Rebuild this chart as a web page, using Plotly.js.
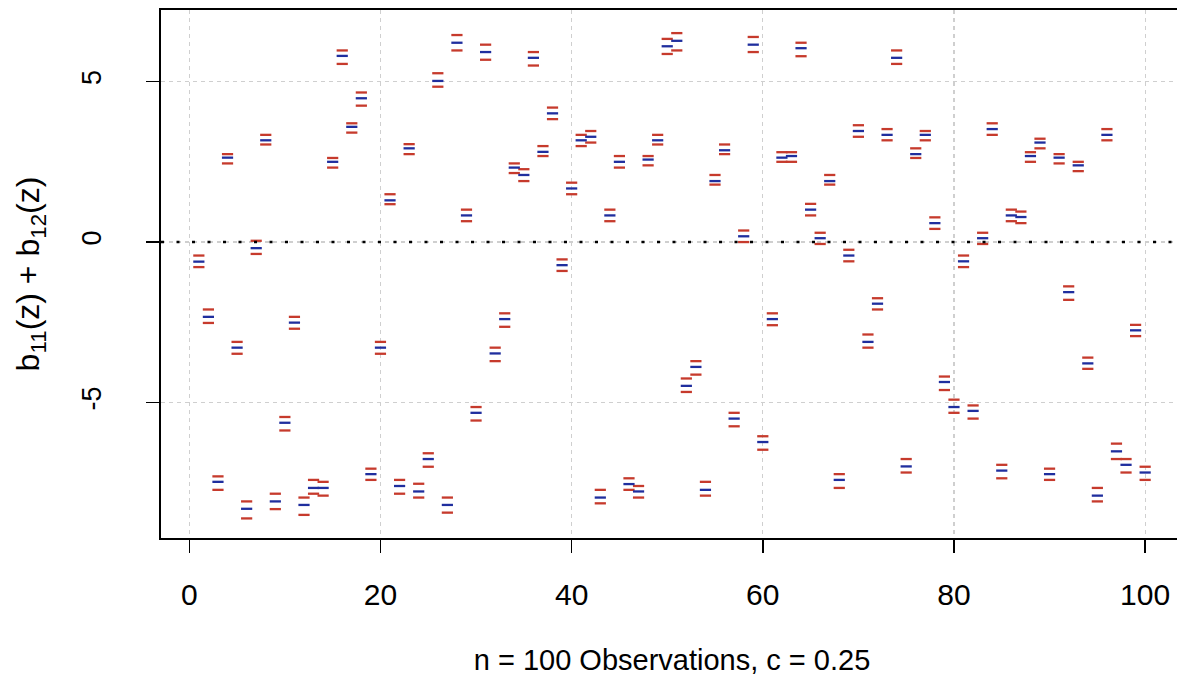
<!DOCTYPE html>
<html>
<head>
<meta charset="utf-8">
<script src="https://cdn.plot.ly/plotly-3.0.1.min.js"></script>
<style>
html,body{margin:0;padding:0;background:#fff;overflow:hidden;}
#chart{width:1183px;height:680px;}
</style>
</head>
<body>
<div id="chart"></div>
<script>
// Observation index
var obs = [];
for (var k = 1; k <= 100; k++) obs.push(k);

// Middle estimate (blue)
var midVals = [
 -0.61,-2.33,-7.47, 2.63,-3.29,-8.31,-0.19, 3.17,-8.08,-5.63,
 -2.51,-8.19,-7.66,-7.66, 2.50, 5.80, 3.59, 4.48,-7.23,-3.29,
  1.30,-7.60, 2.92,-7.77,-6.76, 5.02,-8.19, 6.21, 0.83,-5.32,
  5.92,-3.47,-2.40, 2.32, 2.09, 5.74, 2.81, 4.01,-0.72, 1.67,
  3.17, 3.28,-7.96, 0.83, 2.50,-7.54,-7.77, 2.57, 3.17, 6.10,
  6.27,-4.48,-3.89,-7.72, 1.90, 2.86,-5.50, 0.18, 6.15,-6.23,
 -2.40, 2.63, 2.68, 6.04, 1.01, 0.12, 1.90,-7.41,-0.42, 3.46,
 -3.11,-1.92, 3.34, 5.74,-6.99, 2.74, 3.34, 0.59,-4.36,-5.14,
 -0.60,-5.26, 0.12, 3.52,-7.12, 0.83, 0.78, 2.68, 3.10,-7.23,
  2.63,-1.56, 2.39,-3.78,-7.90, 3.34,-6.52,-6.94,-2.75,-7.18
];
// Upper bound (red)
var upperVals = [
 -0.42,-2.10,-7.30, 2.74,-3.11,-8.08, 0.04, 3.34,-7.84,-5.45,
 -2.33,-7.96,-7.41,-7.47, 2.62, 5.97, 3.70, 4.66,-7.06,-3.11,
  1.49,-7.41, 3.05,-7.53,-6.58, 5.26,-7.96, 6.45, 1.01,-5.14,
  6.15,-3.29,-2.22, 2.45, 2.27, 5.92, 2.99, 4.19,-0.54, 1.85,
  3.34, 3.46,-7.72, 1.01, 2.68,-7.36,-7.60, 2.68, 3.34, 6.33,
  6.51,-4.25,-3.71,-7.47, 2.09, 3.04,-5.32, 0.36, 6.39,-6.05,
 -2.22, 2.80, 2.80, 6.21, 1.19, 0.29, 2.09,-7.23,-0.24, 3.64,
 -2.88,-1.75, 3.52, 5.97,-6.76, 2.92, 3.46, 0.77,-4.19,-4.91,
 -0.42,-5.09, 0.29, 3.70,-6.94, 1.01, 0.95, 2.80, 3.22,-7.06,
  2.74,-1.38, 2.50,-3.60,-7.66, 3.52,-6.28,-6.76,-2.58,-7.00
];
// Lower bound (red)
var lowerVals = [
 -0.78,-2.52,-7.72, 2.45,-3.48,-8.61,-0.37, 3.04,-8.32,-5.87,
 -2.70,-8.50,-7.84,-7.90, 2.32, 5.55, 3.41, 4.25,-7.41,-3.48,
  1.18,-7.84, 2.74,-7.96,-7.00, 4.84,-8.43, 5.97, 0.65,-5.56,
  5.68,-3.71,-2.64, 2.15, 1.90, 5.50, 2.68, 3.83,-0.90, 1.49,
  2.99, 3.10,-8.14, 0.65, 2.32,-7.72,-7.96, 2.39, 3.04, 5.86,
  5.97,-4.67,-4.13,-7.90, 1.79, 2.74,-5.74, 0.00, 5.92,-6.47,
 -2.59, 2.50, 2.50, 5.79, 0.83,-0.06, 1.79,-7.66,-0.60, 3.28,
 -3.29,-2.10, 3.17, 5.55,-7.18, 2.62, 3.17, 0.41,-4.61,-5.32,
 -0.78,-5.50,-0.06, 3.34,-7.36, 0.65, 0.59, 2.50, 2.92,-7.41,
  2.45,-1.80, 2.21,-3.95,-8.08, 3.17,-6.76,-7.18,-2.93,-7.41
];

var xTicks = [0, 20, 40, 60, 80, 100];
var yTicks = [-5, 0, 5];
var yTickText = ['-5', '0', '5'];

var redCol = '#c63a2c';
var blueCol = '#1f2e9e';

function dashTrace(yv, col) {
  return {
    x: obs, y: yv, type: 'scatter', mode: 'markers', hoverinfo: 'skip',
    marker: {symbol: 'line-ew', size: 8, color: col, line: {color: col, width: 2.3}},
    showlegend: false, cliponaxis: false
  };
}

var data = [dashTrace(upperVals, redCol), dashTrace(lowerVals, redCol), dashTrace(midVals, blueCol)];

var tickFont = {family: '"Liberation Sans", Arial, sans-serif', size: 30, color: '#000'};

var layout = {
  width: 1183, height: 680,
  margin: {l: 161, r: 0, t: 10, b: 142, pad: 0},
  paper_bgcolor: '#fff', plot_bgcolor: '#fff',
  showlegend: false,
  xaxis: {
    range: [-2.96, 103.96], tickvals: xTicks, ticktext: xTicks.map(String),
    showgrid: true, gridcolor: '#cfcfcf', gridwidth: 1.2, griddash: '4px,4px',
    zeroline: false, showline: true, linecolor: '#000', linewidth: 2, mirror: true,
    ticks: 'outside', ticklen: 13, tickwidth: 1.5, tickcolor: '#000',
    tickfont: tickFont, ticklabelstandoff: 16,
    title: {text: 'n = 100 Observations, c = 0.25', font: {family: '"Liberation Sans", Arial, sans-serif', size: 29, color: '#000'}, standoff: 40}
  },
  yaxis: {
    range: [-9.22, 7.23], tickvals: yTicks, ticktext: yTickText, tickangle: -90,
    showgrid: true, gridcolor: '#cfcfcf', gridwidth: 1.2, griddash: '4px,4px',
    zeroline: false, showline: true, linecolor: '#000', linewidth: 2, mirror: true,
    ticks: 'outside', ticklen: 13, tickwidth: 1.5, tickcolor: '#000',
    tickfont: {family: '"Liberation Sans", Arial, sans-serif', size: 27, color: '#000'}, ticklabelstandoff: 34,
    title: {text: 'b<sub>11</sub>(z) + b<sub>12</sub>(z)', font: {family: '"Liberation Sans", Arial, sans-serif', size: 32, color: '#000'}, standoff: 28}
  },
  shapes: [{
    type: 'line', xref: 'paper', yref: 'y', x0: 0, x1: 1, y0: 0, y1: 0,
    line: {color: '#000', width: 2.5, dash: '3px,12.5px'}, layer: 'above'
  }]
};

Plotly.newPlot('chart', data, layout, {displayModeBar: false, staticPlot: true});
</script>
</body>
</html>
